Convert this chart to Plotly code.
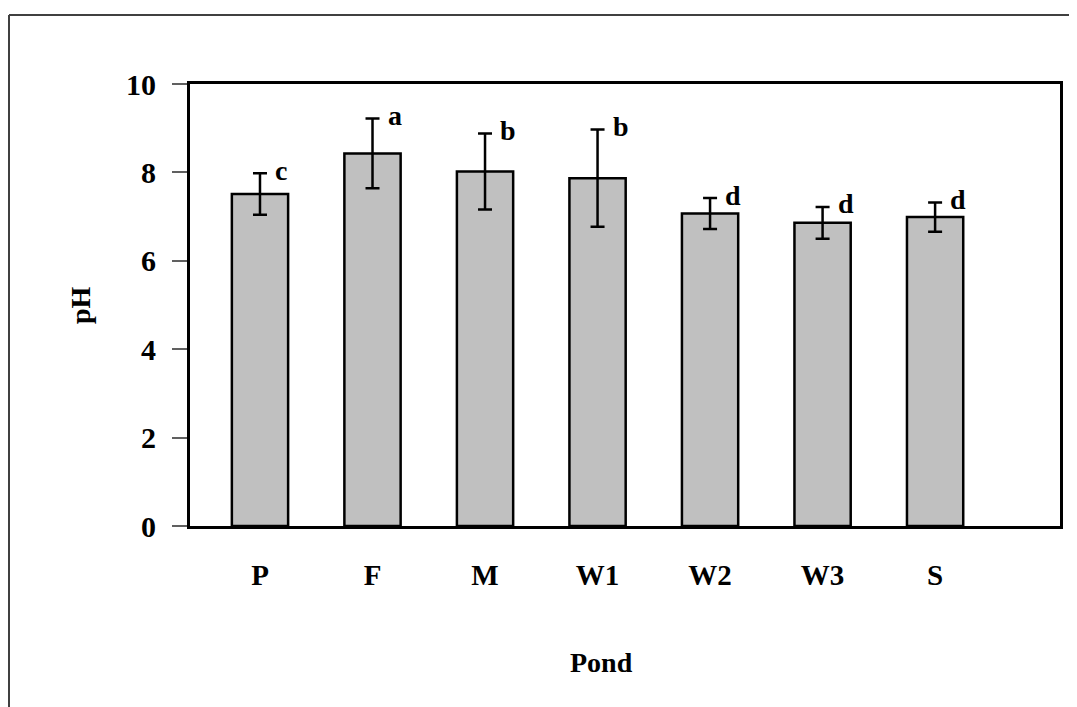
import plotly.graph_objects as go

ponds = ["P", "F", "M", "W1", "W2", "W3", "S"]
ph_mean = [7.51, 8.43, 8.02, 7.87, 7.07, 6.86, 6.99]
ph_err = [0.47, 0.79, 0.86, 1.10, 0.35, 0.36, 0.33]
letters = ["c", "a", "b", "b", "d", "d", "d"]
y_ticks = [0, 2, 4, 6, 8, 10]

FONT = "Liberation Serif, Times New Roman, serif"
W, H = 1077, 707
L, R, T, B = 182, 1052, 76, 518

xpos = list(range(len(ponds)))

fig = go.Figure()
fig.add_trace(go.Bar(
    x=xpos, y=ph_mean, width=0.5,
    marker=dict(color="#C0C0C0", line=dict(color="black", width=2.5)),
    error_y=dict(type="data", array=ph_err, visible=True, color="black",
                 thickness=2.5, width=7),
    showlegend=False,
))

for i, (m, e, lab) in enumerate(zip(ph_mean, ph_err, letters)):
    fig.add_annotation(x=i, y=m + e, text=lab, showarrow=False,
                       xanchor="left", yanchor="middle", xshift=13, yshift=3,
                       font=dict(family=FONT, size=28, color="black", weight="bold"))

def px_to_paper_x(px):
    return (px - L) / (R - L)

def px_to_paper_y(py):
    return (B - py) / (B - T)

# outer frame (top and left lines)
fig.add_shape(type="line", xref="paper", yref="paper",
              x0=px_to_paper_x(1), y0=px_to_paper_y(7), x1=px_to_paper_x(W), y1=px_to_paper_y(7),
              line=dict(color="#404040", width=2))
fig.add_shape(type="line", xref="paper", yref="paper",
              x0=px_to_paper_x(1), y0=px_to_paper_y(7), x1=px_to_paper_x(1), y1=px_to_paper_y(H),
              line=dict(color="#404040", width=2))

fig.add_annotation(xref="paper", yref="paper", x=px_to_paper_x(72), y=px_to_paper_y(297),
                   text="pH", textangle=-90, showarrow=False,
                   xanchor="center", yanchor="middle",
                   font=dict(family=FONT, size=28, color="black", weight="bold"))
fig.add_annotation(xref="paper", yref="paper", x=px_to_paper_x(593), y=px_to_paper_y(654),
                   text="Pond", showarrow=False,
                   xanchor="center", yanchor="middle",
                   font=dict(family=FONT, size=28, color="black", weight="bold"))

fig.update_layout(
    width=W, height=H,
    margin=dict(l=L, r=W - R, t=T, b=H - B, pad=0),
    paper_bgcolor="white", plot_bgcolor="white",
    xaxis=dict(range=[-0.622, 7.11], tickmode="array", tickvals=xpos, ticktext=ponds,
               showline=True, linecolor="black", linewidth=3, mirror=True,
               ticks="", showgrid=False, zeroline=False, ticklabelstandoff=21,
               tickfont=dict(family=FONT, size=29, color="black", weight="bold")),
    yaxis=dict(range=[0, 10], tickmode="array", tickvals=y_ticks,
               showline=True, linecolor="black", linewidth=3, mirror=True,
               ticks="outside", ticklen=15, tickcolor="#606060", tickwidth=1.5,
               showgrid=False, zeroline=False, ticklabelstandoff=10,
               tickfont=dict(family=FONT, size=30, color="black", weight="bold")),
)

fig.write_html("out.html")
